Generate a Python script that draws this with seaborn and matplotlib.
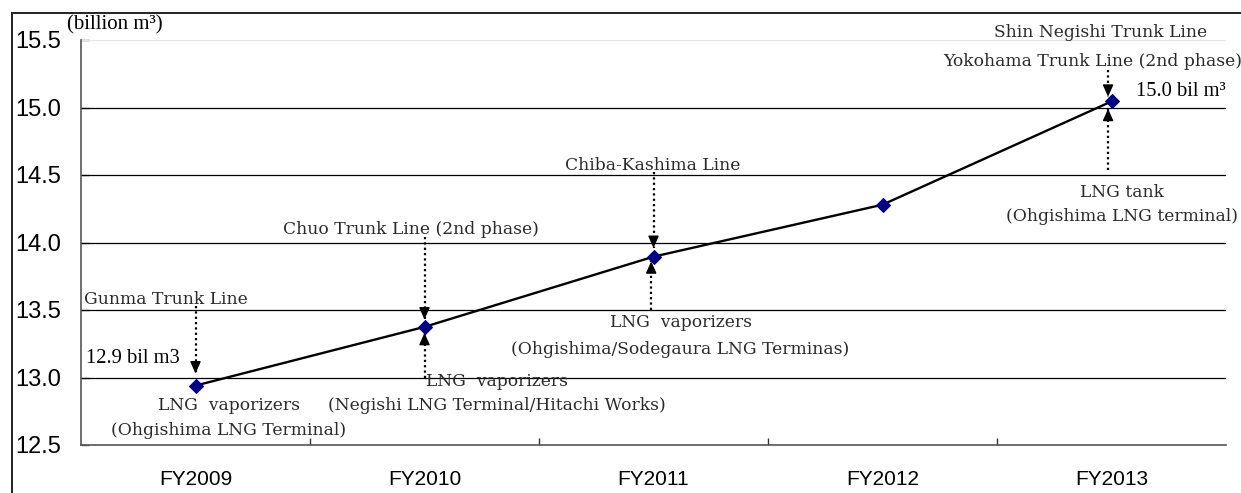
import matplotlib
matplotlib.use("Agg")
import matplotlib.pyplot as plt
import seaborn as sns
import pandas as pd
from matplotlib.patches import Rectangle

# ── Data ──────────────────────────────────────────────────────────────────────
years  = ["FY2009", "FY2010", "FY2011", "FY2012", "FY2013"]
supply = [12.94, 13.375, 13.895, 14.28, 15.045]   # billion m3
yticks = [12.5, 13.0, 13.5, 14.0, 14.5, 15.0, 15.5]

# upper / lower notes per year index
notes_above = {
    0: ["Gunma Trunk Line"],
    1: ["Chuo Trunk Line (2nd phase)"],
    2: ["Chiba-Kashima Line"],
    4: ["Shin Negishi Trunk Line", "Yokohama Trunk Line (2nd phase)"],
}
notes_below = {
    0: ["LNG  vaporizers", "(Ohgishima LNG Terminal)"],
    1: ["LNG  vaporizers", "(Negishi LNG Terminal/Hitachi Works)"],
    2: ["LNG  vaporizers", "(Ohgishima/Sodegaura LNG Terminas)"],
    4: ["LNG tank", "(Ohgishima LNG terminal)"],
}
first_label = "12.9 bil m3"
last_label  = "15.0 bil m\u00b3"
unit_label  = "(billion m\u00b3)"

df = pd.DataFrame({"year": years, "supply": supply})

# ── Style ─────────────────────────────────────────────────────────────────────
sns.set_theme(style="white")
plt.rcParams["font.family"] = ["Liberation Sans", "DejaVu Sans"]
SERIF = ["DejaVu Serif"]
TIMES = ["Liberation Serif", "DejaVu Serif"]
NOTE_C = "#2a2a2a"

fig = plt.figure(figsize=(12.41, 4.93), dpi=100)
ax = fig.add_axes([81 / 1241, 1 - 445 / 493, (1226 - 81) / 1241, (445 - 40) / 493])

sns.lineplot(data=df, x="year", y="supply", ax=ax, color="black", lw=1.7,
             marker="D", markersize=7.5, markerfacecolor="#000080",
             markeredgecolor="#000080", zorder=5)

ax.set_xlim(-0.5, len(years) - 0.5)
ax.set_ylim(yticks[0], yticks[-1])
ax.set_yticks(yticks)
ax.set_yticklabels([f"{v:.1f}" for v in yticks], fontsize=17, color="black")
ax.set_xticks(range(len(years)))
ax.set_xticklabels(years, fontsize=15, color="black")
ax.set_xticks([i + 0.5 for i in range(len(years) - 1)], minor=True)
ax.tick_params(axis="x", which="major", length=0, pad=18)
ax.tick_params(axis="x", which="minor", direction="in", length=5, width=1,
               color="#333333", bottom=True)
ax.tick_params(axis="y", direction="in", length=6, width=1, color="#555555",
               pad=14, left=True)
ax.set_xlabel("")
ax.set_ylabel("")

for v in yticks[1:-1]:
    ax.axhline(v, color="black", lw=0.9, zorder=1)
ax.axhline(yticks[-1], color="#e6e6e6", lw=0.9, zorder=1)

for s in ["top", "right"]:
    ax.spines[s].set_visible(False)
ax.spines["left"].set_color("#555555")
ax.spines["bottom"].set_color("#555555")
ax.spines["left"].set_linewidth(1.2)
ax.spines["bottom"].set_linewidth(1.2)


# ── Dotted arrows ─────────────────────────────────────────────────────────────
def dotted_arrow(x, y0, y1):
    ax.plot([x, x], [y0, y1], color="black", lw=1.6, ls=(0, (1, 1.4)), zorder=4)
    d = 0.07 if y1 < y0 else -0.07
    ax.annotate("", xy=(x, y1), xytext=(x, y1 + d),
                arrowprops=dict(arrowstyle="-|>,head_length=0.6,head_width=0.27",
                                color="black", lw=1, shrinkA=0, shrinkB=0),
                zorder=6)

dotted_arrow(0.0, 13.53, 13.03)
dotted_arrow(1.0, 14.04, 13.43)
dotted_arrow(1.0, 13.00, 13.33)
dotted_arrow(2.0, 14.52, 13.96)
dotted_arrow(1.99, 13.50, 13.86)
dotted_arrow(3.985, 15.28, 15.08)
dotted_arrow(3.985, 14.54, 14.99)

# ── Notes ─────────────────────────────────────────────────────────────────────
note_kw = dict(fontsize=12.3, family=SERIF, color=NOTE_C, ha="center", va="center")
above_pos = {0: [(-0.131, 13.58)], 1: [(0.939, 14.093)], 2: [(1.996, 14.574)],
             4: [(3.952, 15.552), (4.569, 15.344)]}
below_pos = {0: [(0.148, 12.796), (0.144, 12.611)],
             1: [(1.315, 12.974), (1.318, 12.796)],
             2: [(2.118, 13.404), (2.118, 13.204)],
             4: [(4.048, 14.374), (4.048, 14.189)]}
for i, lines in notes_above.items():
    for txt, (x, y) in zip(lines, above_pos[i]):
        kw = dict(note_kw)
        if txt.startswith("Yokohama"):
            kw["ha"] = "right"
        ax.text(x, y, txt, clip_on=False, **kw)
for i, lines in notes_below.items():
    for txt, (x, y) in zip(lines, below_pos[i]):
        ax.text(x, y, txt, clip_on=False, **note_kw)

ax.text(-0.48, 13.144, first_label, fontsize=14.8, family=TIMES, color="black",
        ha="left", va="center")
ax.text(4.105, 15.115, last_label, fontsize=14.8, family=TIMES, color="black",
        ha="left", va="center", clip_on=False)
fig.text(67 / 1241, 1 - 25 / 493, unit_label, fontsize=15, family=TIMES,
         color="black", ha="left", va="center")

# outer frame
fig.add_artist(Rectangle((12 / 1241, -0.1), 1.2, 1 - 13 / 493 + 0.1, fill=False,
                         transform=fig.transFigure, lw=1.4, edgecolor="#222222"))

fig.savefig("out.png", dpi=100)
